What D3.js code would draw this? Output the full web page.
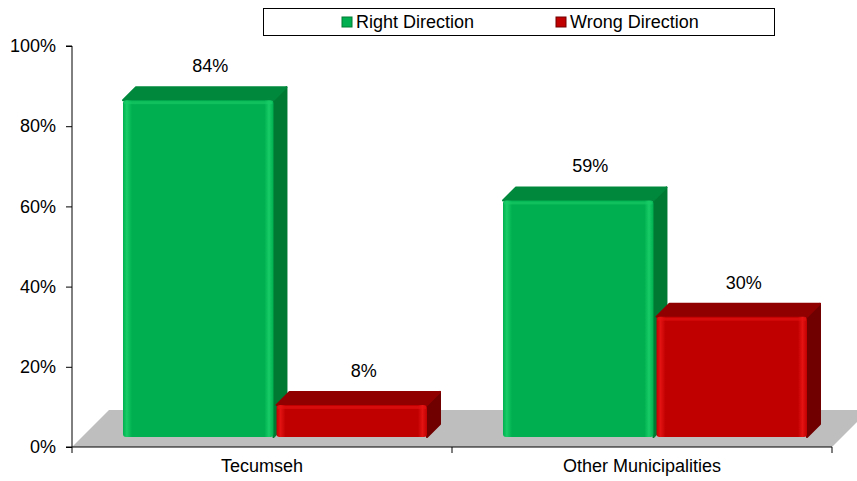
<!DOCTYPE html>
<html>
<head>
<meta charset="utf-8">
<script src="https://cdn.jsdelivr.net/npm/d3@7"></script>
<style>
  body { margin: 0; background: #fff; }
  svg { display: block; font-family: "Liberation Sans", Arial, sans-serif; }
</style>
</head>
<body>
<svg id="chart" width="857" height="481"></svg>
<script>
// chart data
var categories = ['Tecumseh', 'Other Municipalities'];
var seriesNames = ['Right Direction', 'Wrong Direction'];
var rightDirection = [0.84, 0.59];
var wrongDirection = [0.08, 0.30];
var yTicks = [0, 0.2, 0.4, 0.6, 0.8, 1.0];

var colors = {
    'Right Direction': { front: '#00b050', light: '#19cc66', top: '#00893d', side: '#007a33' },
    'Wrong Direction': { front: '#c00000', light: '#e41313', top: '#900000', side: '#700000' }
};

var margin = { top: 46, right: 25, bottom: 34, left: 72 },
    width = 857 - margin.left - margin.right,
    height = 481 - margin.top - margin.bottom,
    floorDepth = 37,   // depth of the grey floor
    barInset = 10,     // bars sit this far back from the front plane
    barDepth = 13;

var svg = d3.select('#chart');
var defs = svg.append('defs');

seriesNames.forEach(function(s, i) {
    var c = colors[s];
    var g = defs.append('linearGradient').attr('id', 'front' + i)
        .attr('x1', 0).attr('x2', 1).attr('y1', 0).attr('y2', 0);
    g.append('stop').attr('offset', '0%').attr('stop-color', c.front);
    g.append('stop').attr('offset', '2.5%').attr('stop-color', c.light);
    g.append('stop').attr('offset', '6%').attr('stop-color', c.front);
    g.append('stop').attr('offset', '94%').attr('stop-color', c.front);
    g.append('stop').attr('offset', '97%').attr('stop-color', c.light);
    g.append('stop').attr('offset', '100%').attr('stop-color', c.front);
});

var x = d3.scaleBand().domain(categories).range([margin.left, margin.left + width]);
var xSub = d3.scaleBand().domain(seriesNames).range([41, 345]).paddingInner(0.02);
var y = d3.scaleLinear().domain([0, 1]).range([margin.top + height, margin.top]);

var data = [];
categories.forEach(function(cat, i) {
    data.push({ cat: cat, series: seriesNames[0], value: rightDirection[i], idx: 0 });
    data.push({ cat: cat, series: seriesNames[1], value: wrongDirection[i], idx: 1 });
});

// floor
var x0 = x.range()[0], x1 = x.range()[1], y0 = y(0);
svg.append('path')
    .attr('d', 'M' + x0 + ',' + y0 + 'L' + x1 + ',' + y0 +
               'L' + (x1 + floorDepth) + ',' + (y0 - floorDepth) +
               'L' + (x0 + floorDepth) + ',' + (y0 - floorDepth) + 'Z')
    .attr('fill', '#bebebe');

// bars
var bars = svg.selectAll('g.bar')
    .data(data)
    .enter().append('g')
    .attr('class', 'bar');

bars.each(function(d) {
    var g = d3.select(this),
        c = colors[d.series],
        bx0 = x(d.cat) + xSub(d.series) + barInset,
        bx1 = bx0 + xSub.bandwidth(),
        top = y(d.value) - barInset,
        bottom = y(0) - barInset,
        k = barDepth;

    // side face
    g.append('path')
        .attr('d', 'M' + bx1 + ',' + top + 'L' + (bx1 + k) + ',' + (top - k) +
                   'L' + (bx1 + k) + ',' + (bottom - k) + 'L' + bx1 + ',' + bottom + 'Z')
        .attr('fill', c.side)
        .attr('stroke', c.side).attr('stroke-linejoin', 'round').attr('stroke-width', 2);
    // top face
    g.append('path')
        .attr('d', 'M' + bx0 + ',' + top + 'L' + (bx0 + k) + ',' + (top - k) +
                   'L' + (bx1 + k) + ',' + (top - k) + 'L' + bx1 + ',' + top + 'Z')
        .attr('fill', c.top)
        .attr('stroke', c.top).attr('stroke-linejoin', 'round').attr('stroke-width', 2);
    // front face
    g.append('rect')
        .attr('x', bx0).attr('y', top)
        .attr('width', bx1 - bx0).attr('height', bottom - top)
        .attr('rx', 3)
        .attr('fill', 'url(#front' + d.idx + ')');
    g.append('rect')
        .attr('x', bx0 + 1).attr('y', top + 1)
        .attr('width', bx1 - bx0 - 2).attr('height', 3)
        .attr('fill', c.light).attr('opacity', 0.6);
});

// value labels
svg.selectAll('text.value')
    .data(data)
    .enter().append('text')
    .attr('class', 'value')
    .attr('x', function(d) { return x(d.cat) + xSub(d.series) + xSub.bandwidth() / 2 + barInset + 12; })
    .attr('y', function(d) { return y(d.value) - 38; })
    .attr('text-anchor', 'middle')
    .attr('font-size', 18)
    .attr('fill', '#000')
    .text(function(d) { return Math.round(d.value * 100) + '%'; });

// y axis
var yAxis = d3.axisLeft(y)
    .tickValues(yTicks)
    .tickSize(6)
    .tickPadding(10)
    .tickFormat(d3.format('.0%'));

svg.append('g')
    .attr('transform', 'translate(' + margin.left + ',0)')
    .call(yAxis)
    .call(function(g) {
        g.select('.domain').attr('stroke', '#000').attr('d', 'M-6,' + y(0) + 'H0V' + y(1) + 'H-6');
        g.selectAll('.tick line').attr('stroke', '#000');
        g.selectAll('.tick text').attr('font-size', 18).attr('font-family', '"Liberation Sans", Arial, sans-serif').attr('fill', '#000');
    });

// x axis
var xAxis = d3.axisBottom(x).tickSize(0).tickPadding(12);
svg.append('g')
    .attr('transform', 'translate(0,' + y(0) + ')')
    .call(xAxis)
    .call(function(g) {
        g.select('.domain').attr('stroke', '#000').attr('d', 'M' + x0 + ',0H' + x1);
        g.selectAll('.tick text').attr('font-size', 18).attr('font-family', '"Liberation Sans", Arial, sans-serif').attr('fill', '#000');
    });

var boundaries = categories.map(function(c) { return x(c); }).concat([x1]);
svg.selectAll('line.xtick')
    .data(boundaries)
    .enter().append('line')
    .attr('class', 'xtick')
    .attr('x1', function(d) { return d; }).attr('x2', function(d) { return d; })
    .attr('y1', y(0)).attr('y2', y(0) + 6)
    .attr('stroke', '#000');

// legend
var legend = svg.append('g');
legend.append('rect')
    .attr('x', 263.5).attr('y', 8.5)
    .attr('width', 511).attr('height', 27)
    .attr('fill', '#fff').attr('stroke', '#000');

var legendX = [342, 556];
var items = legend.selectAll('g.item')
    .data(seriesNames)
    .enter().append('g')
    .attr('class', 'item')
    .attr('transform', function(d, i) { return 'translate(' + legendX[i] + ',0)'; });

items.append('rect')
    .attr('x', 0).attr('y', 17)
    .attr('width', 10).attr('height', 10)
    .attr('fill', function(d) { return colors[d].front; })
    .attr('stroke', function(d) { return colors[d].side; });

items.append('text')
    .attr('x', 14).attr('y', 28)
    .attr('font-size', 18)
    .attr('fill', '#000')
    .text(function(d) { return d; });
</script>
</body>
</html>
